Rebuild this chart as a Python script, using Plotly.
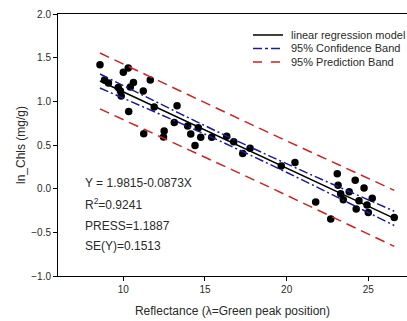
import plotly.graph_objects as go

# Observed points (Reflectance at green peak, ln_Chls)
obs_x = [8.57, 10.00, 10.30, 8.85, 9.09, 9.69, 9.82, 9.87, 10.62, 10.43, 11.65, 11.22,
         10.33, 11.89, 13.29, 11.25, 12.50, 12.46, 13.12, 13.94, 14.13, 14.59, 14.74,
         14.39, 15.41, 16.33, 16.76, 17.31, 17.76, 19.67, 20.51, 21.78, 22.70, 23.10,
         23.15, 23.31, 23.47, 23.83, 24.20, 24.26, 24.43, 24.74, 24.92, 25.00, 25.24, 26.59]
obs_y = [1.419, 1.332, 1.381, 1.244, 1.210, 1.158, 1.118, 1.061, 1.215, 1.164, 1.244, 1.118,
         0.883, 0.935, 0.950, 0.629, 0.660, 0.591, 0.759, 0.717, 0.625, 0.698, 0.588,
         0.494, 0.588, 0.599, 0.537, 0.404, 0.462, 0.259, 0.301, -0.153, -0.348, 0.171,
         0.038, -0.058, -0.127, -0.035, 0.095, -0.234, -0.139, 0.007, -0.188, -0.274, -0.111, -0.329]

# Fitted line and bands
band_x = [8.57, 11.0, 13.5, 16.0, 17.5, 19.0, 21.5, 24.0, 26.59]
fit_y = [1.233, 1.021, 0.803, 0.585, 0.454, 0.323, 0.105, -0.114, -0.340]
conf_up = [1.313, 1.086, 0.856, 0.631, 0.499, 0.370, 0.159, -0.048, -0.258]
conf_lo = [1.153, 0.956, 0.750, 0.539, 0.409, 0.276, 0.051, -0.180, -0.422]
pred_up = [1.553, 1.336, 1.115, 0.895, 0.764, 0.633, 0.417, 0.201, -0.019]
pred_lo = [0.913, 0.706, 0.491, 0.275, 0.144, 0.013, -0.207, -0.429, -0.661]

legend_labels = ["linear regression model", "95% Confidence Band", "95% Prediction Band"]
stats_lines = ["Y = 1.9815-0.0873X", "R<sup>2</sup>=0.9241", "PRESS=1.1887", "SE(Y)=0.1513"]

BLACK = "#000000"
BLUE = "#1a1a9a"
RED = "#cc2222"
FONT = "Liberation Sans, Arial, sans-serif"
TXT = "#2a2a2a"

fig = go.Figure()
fig.add_trace(go.Scatter(x=obs_x, y=obs_y, mode="markers",
                         marker=dict(color="black", size=7.5), showlegend=False))
fig.add_trace(go.Scatter(x=band_x, y=pred_up, mode="lines", line=dict(color=RED, width=1.5, dash="10px,6px"), showlegend=False))
fig.add_trace(go.Scatter(x=band_x, y=pred_lo, mode="lines", line=dict(color=RED, width=1.5, dash="10px,6px"), showlegend=False))
fig.add_trace(go.Scatter(x=band_x, y=conf_up, mode="lines", line=dict(color=BLUE, width=1.5, dash="9px,3px,2px,3px"), showlegend=False))
fig.add_trace(go.Scatter(x=band_x, y=conf_lo, mode="lines", line=dict(color=BLUE, width=1.5, dash="9px,3px,2px,3px"), showlegend=False))
fig.add_trace(go.Scatter(x=band_x, y=fit_y, mode="lines", line=dict(color=BLACK, width=1.5), showlegend=False))

W, H = 407, 321
L, R, T, B = 58, 0, 14, 45
pw, ph = W - L - R, H - T - B

def px(xp):
    return (xp - L) / pw

def py(yp):
    return 1 - (yp - T) / ph

# manual legend
leg_rows = [35, 48.5, 62]
leg_styles = [dict(color=BLACK, width=1.5), dict(color=BLUE, width=1.5, dash="dashdot"),
              dict(color=RED, width=1.5, dash="dash")]
for yy, lab, st in zip(leg_rows, legend_labels, leg_styles):
    fig.add_shape(type="line", xref="paper", yref="paper", x0=px(253), x1=px(283),
                  y0=py(yy), y1=py(yy), line=st)
    fig.add_annotation(xref="paper", yref="paper", x=px(289), y=py(yy), text=lab,
                       showarrow=False, xanchor="left", yanchor="middle",
                       font=dict(family=FONT, size=11, color=TXT))

stats_rows = [183.3, 204, 225.7, 245.7]
for yy, s in zip(stats_rows, stats_lines):
    fig.add_annotation(xref="paper", yref="paper", x=px(83), y=py(yy), text=s,
                       showarrow=False, xanchor="left", yanchor="middle",
                       font=dict(family=FONT, size=12, color=TXT))

fig.update_layout(
    width=W, height=H,
    margin=dict(l=L, r=R, t=T, b=B),
    plot_bgcolor="white", paper_bgcolor="white",
    font=dict(family=FONT, size=10, color=TXT),
    showlegend=False,
    xaxis=dict(range=[6, 27.37], tickvals=[10, 15, 20, 25], ticks="outside", ticklen=4,
               tickcolor="black", showline=True, linecolor="black", linewidth=1,
               mirror=True, showgrid=False, zeroline=False,
               tickfont=dict(family=FONT, size=10, color=TXT),
               title=dict(text="Reflectance (λ=Green peak position)", standoff=12,
                          font=dict(family=FONT, size=12, color=TXT))),
    yaxis=dict(range=[-1, 2], dtick=0.5, tickformat=".1f", ticks="outside", ticklen=4,
               tickcolor="black", showline=True, linecolor="black", linewidth=1,
               showgrid=False, zeroline=False,
               tickfont=dict(family=FONT, size=10, color=TXT),
               title=dict(text="ln_Chls (mg/g)", standoff=3,
                          font=dict(family=FONT, size=12, color=TXT))),
)

fig.write_html("out.html")
